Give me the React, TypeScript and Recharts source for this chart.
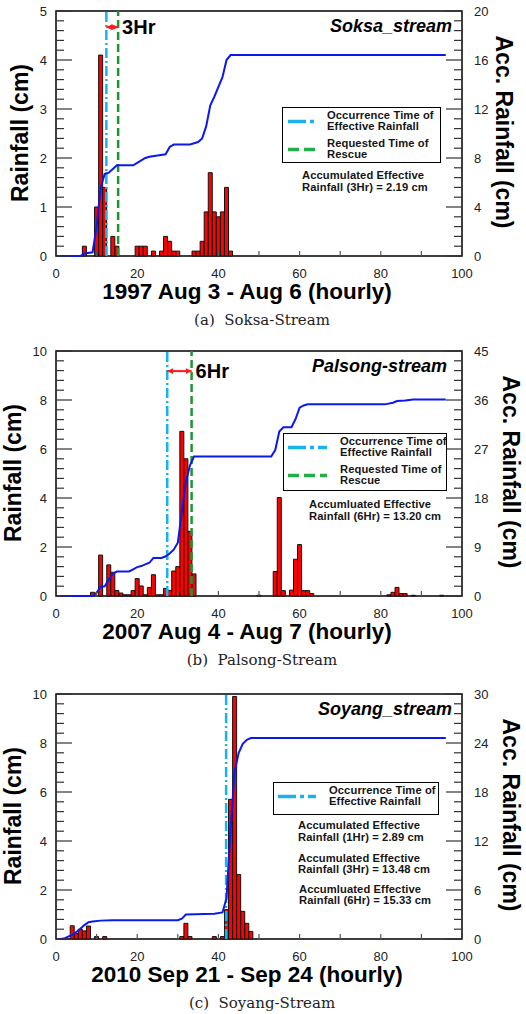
import React from 'react';
import { ComposedChart, Bar, Line, XAxis, YAxis, ReferenceLine, ReferenceArea } from 'recharts';

const SANS = '"Liberation Sans", Arial, sans-serif';
const SERIF = '"DejaVu Serif", "Liberation Serif", serif';

const hourSlots = Array.from({ length: 96 }, (_, i) => i + 1);
const xTickValues = [0, 10, 20, 30, 40, 50, 60, 70, 80, 90, 100];
const xTickLabels = [0, 20, 40, 60, 80, 100];

// (a) Soksa stream, 1997 Aug 3 - Aug 6
const soksaRainHour = [7, 10, 11, 12, 14, 15, 20, 21, 22, 24, 26, 27, 28, 29, 30, 34, 35, 36, 37, 38, 39, 40, 41, 42, 43];
const soksaRain = [0.2, 1.0, 4.1, 1.4, 0.4, 0.2, 0.2, 0.2, 0.2, 0.1, 0.1, 0.4, 0.3, 0.1, 0.1, 0.1, 0.1, 0.3, 0.9, 1.7, 0.9, 0.8, 0.9, 1.4, 0.1];
const soksaAccHour = [1, 6, 7, 9, 10, 11, 12, 13, 14, 15, 19, 20, 22, 23, 25, 27, 28, 29, 33, 35, 36, 37, 38, 39, 40, 41, 42, 43, 96];
const soksaAcc = [0, 0, 0.2, 0.3, 2.4, 5.6, 6.7, 6.8, 7.1, 7.4, 7.4, 7.6, 8.0, 8.1, 8.2, 8.3, 8.9, 9.1, 9.1, 9.3, 9.6, 10.6, 12.3, 13.0, 13.8, 14.6, 16.0, 16.4, 16.4];
const soksaLeftTicks = [0, 1, 2, 3, 4, 5];
const soksaRightTicks = [0, 4, 8, 12, 16, 20];

// (b) Palsong stream, 2007 Aug 4 - Aug 7
const palsongRainHour = [9, 11, 13, 14, 15, 16, 17, 18, 19, 20, 21, 22, 23, 24, 25, 26, 27, 28, 29, 30, 31, 32, 33, 34, 50, 54, 55, 56, 58, 59, 60, 61, 62, 63, 82, 83, 84, 85, 86, 88, 95];
const palsongRain = [0.15, 1.67, 1.27, 0.97, 0.22, 0.12, 0.05, 0.05, 0.22, 0.71, 0.41, 0.05, 0.35, 0.87, 0.05, 0.05, 0.31, 0.23, 1.02, 1.2, 6.72, 5.6, 2.64, 0.9, 0.03, 1.0, 4.02, 0.22, 0.24, 1.5, 2.1, 0.22, 0.22, 0.1, 0.05, 0.15, 0.35, 0.1, 0.1, 0.03, 0.03];
const palsongAccHour = [1, 9, 10, 11, 12, 13, 14, 15, 18, 19, 20, 21, 22, 23, 24, 26, 27, 28, 29, 30, 31, 32, 33, 34, 53, 54, 55, 56, 58, 59, 60, 61, 62, 81, 83, 84, 86, 88, 96];
const palsongAcc = [0, 0, 0.6, 1.7, 1.8, 3.0, 4.1, 4.5, 4.5, 4.9, 5.3, 5.5, 5.8, 6.1, 7.0, 7.0, 7.3, 7.8, 8.5, 9.8, 15.5, 21.0, 24.0, 25.6, 25.6, 26.8, 30.2, 31.0, 31.0, 32.5, 34.6, 35.0, 35.2, 35.2, 35.5, 35.8, 35.9, 36.1, 36.1];
const palsongLeftTicks = [0, 2, 4, 6, 8, 10];
const palsongRightTicks = [0, 9, 18, 27, 36, 45];

// (c) Soyang stream, 2010 Sep 21 - Sep 24
const soyangRainHour = [4, 5, 6, 7, 8, 10, 12, 31, 32, 33, 39, 41, 42, 43, 44, 45, 46, 47, 48];
const soyangRain = [0.54, 0.22, 0.4, 0.33, 0.53, 0.1, 0.1, 0.1, 0.64, 0.1, 0.1, 0.1, 1.2, 5.7, 9.9, 2.63, 1.13, 0.64, 0.31];
const soyangAccHour = [1, 2, 3, 4, 5, 6, 7, 8, 9, 11, 14, 30, 31, 32, 39, 41, 42, 43, 44, 45, 46, 47, 48, 96];
const soyangAcc = [0, 0.05, 0.3, 0.5, 0.85, 1.25, 1.7, 2.05, 2.15, 2.25, 2.3, 2.3, 2.5, 3.0, 3.1, 3.25, 5.0, 13.5, 20.5, 22.8, 23.9, 24.4, 24.6, 24.6];
const soyangLeftTicks = [0, 2, 4, 6, 8, 10];
const soyangRightTicks = [0, 6, 12, 18, 24, 30];

const EFFECTIVE_COLOR = '#1ab2ea';
const RESCUE_COLOR = '#1c9634';
const RESCUE_SAMPLE = '#22ad4a';

const buildRows = (rainHour: number[], rain: number[], accHour: number[], acc: number[]) =>
  hourSlots.map((h) => {
    const ri = rainHour.indexOf(h);
    const ai = accHour.indexOf(h);
    return { h, rain: ri >= 0 ? rain[ri] : null, acc: ai >= 0 ? acc[ai] : null };
  });

// majors plus 4 minor ticks between each pair
const withMinors = (majors: number[]) => {
  const out: number[] = [];
  for (let i = 0; i < majors.length - 1; i++) {
    const step = (majors[i + 1] - majors[i]) / 5;
    for (let k = 0; k < 5; k++) out.push(Math.round((majors[i] + k * step) * 1000) / 1000);
  }
  out.push(majors[majors.length - 1]);
  return out;
};

const XTick = (p: any) => {
  const { x, y, payload } = p;
  const v = payload.value;
  return (
    <g>
      {v > 0 && v < 100 && <line x1={x} x2={x} y1={y} y2={y - 5} stroke="#555" strokeWidth={1.2} />}
      {xTickLabels.includes(v) && (
        <text x={x} y={y + 17} dy="0.36em" textAnchor="middle" fontSize={13} fill="#222" fontFamily={SANS}>
          {v}
        </text>
      )}
    </g>
  );
};

const SideTick = (p: any) => {
  const { x, y, payload, side, majors } = p;
  const v = payload.value;
  const isMajor = majors.some((m: number) => Math.abs(m - v) < 1e-6);
  const len = isMajor ? 16 : 8;
  const dir = side === 'left' ? 1 : -1;
  return (
    <g>
      <line x1={x} x2={x + dir * len} y1={y} y2={y} stroke="#333" strokeWidth={1.2} />
      {isMajor && (
        <text
          x={side === 'left' ? x - 9 : x + 12}
          y={y}
          dy="0.36em"
          textAnchor={side === 'left' ? 'end' : 'start'}
          fontSize={13}
          fill="#222"
          fontFamily={SANS}
        >
          {v}
        </text>
      )}
    </g>
  );
};

type LegendRow = { kind: 'effective' | 'rescue'; lines: string[] };

const legendText: React.CSSProperties = {
  fontFamily: SANS,
  fontWeight: 'bold',
  fontSize: 11.2,
  letterSpacing: '0.1px',
  lineHeight: '11.8px',
  color: '#151515',
  whiteSpace: 'nowrap',
};

const LegendBox = ({ box, sampleX, sampleW, textX, rows }: any) => (
  <div
    style={{
      position: 'absolute',
      left: box[0],
      top: box[1],
      width: box[2],
      height: box[3],
      border: '1.5px solid #000',
      boxSizing: 'border-box',
      background: '#fff',
    }}
  >
    {rows.map((r: LegendRow, i: number) => (
      <div key={i} style={{ position: 'absolute', left: 0, right: 0, top: 1.5 + i * 28, height: 24 }}>
        <svg style={{ position: 'absolute', left: sampleX, top: 9.5 }} width={sampleW} height={5}>
          <line
            x1={0}
            x2={sampleW}
            y1={2.5}
            y2={2.5}
            stroke={r.kind === 'effective' ? EFFECTIVE_COLOR : RESCUE_SAMPLE}
            strokeWidth={3.5}
            strokeDasharray={r.kind === 'effective' ? '18 4 4 4' : '11 5'}
          />
        </svg>
        <div style={{ ...legendText, position: 'absolute', left: textX, top: 0 }}>
          {r.lines.map((t, j) => (
            <div key={j}>{t}</div>
          ))}
        </div>
      </div>
    ))}
  </div>
);

const Panel = (props: any) => {
  const {
    id, top, rows, leftMajors, rightMajors, effectiveAt, rescueAt, arrowAt, gapLabel,
    stream, streamRight, legend, notes, leftTitleX, rightTitleX, title, caption,
  } = props;
  const leftMax = leftMajors[leftMajors.length - 1];
  const rightMax = rightMajors[rightMajors.length - 1];
  return (
    <div style={{ position: 'absolute', left: 0, top, width: 526, height: 340 }}>
      <ComposedChart width={526} height={280} data={rows} margin={{ top: 11, right: 63, bottom: 0, left: 55 }}>
        <defs>
          <marker id={`arrow-${id}`} viewBox="0 0 10 10" refX="10" refY="5" markerWidth="3" markerHeight="3" orient="auto-start-reverse">
            <path d="M0,0 L10,5 L0,10 z" fill="#ff1a1a" />
          </marker>
        </defs>
        <XAxis
          dataKey="h"
          type="number"
          domain={[0, 100]}
          ticks={xTickValues}
          interval={0}
          height={24}
          tickSize={0}
          tickMargin={0}
          axisLine={false}
          tickLine={false}
          tick={(p: any) => <XTick {...p} />}
        />
        <YAxis
          yAxisId="left"
          domain={[0, leftMax]}
          ticks={withMinors(leftMajors)}
          interval={0}
          width={1}
          tickSize={0}
          tickMargin={0}
          axisLine={false}
          tickLine={false}
          tick={(p: any) => <SideTick {...p} side="left" majors={leftMajors} />}
        />
        <YAxis
          yAxisId="right"
          orientation="right"
          domain={[0, rightMax]}
          ticks={withMinors(rightMajors)}
          interval={0}
          width={1}
          tickSize={0}
          tickMargin={0}
          axisLine={false}
          tickLine={false}
          tick={(p: any) => <SideTick {...p} side="right" majors={rightMajors} />}
        />
        <ReferenceArea yAxisId="left" x1={0} x2={100} y1={0} y2={leftMax} fill="none" stroke="#000" strokeWidth={1.5} />
        <Bar yAxisId="left" dataKey="rain" fill="#ff0000" stroke="#111" strokeWidth={1} barSize={4} isAnimationActive={false} />
        <ReferenceLine yAxisId="left" x={effectiveAt} stroke={EFFECTIVE_COLOR} strokeWidth={2.5} strokeDasharray="10 3 2 3" />
        {rescueAt != null && (
          <ReferenceLine yAxisId="left" x={rescueAt} stroke={RESCUE_COLOR} strokeWidth={2.5} strokeDasharray="8 4" />
        )}
        {rescueAt != null && (
          <ReferenceLine
            yAxisId="left"
            segment={[{ x: effectiveAt, y: arrowAt }, { x: rescueAt, y: arrowAt }]}
            stroke="#ff1a1a"
            strokeWidth={2}
            markerStart={`url(#arrow-${id})`}
            markerEnd={`url(#arrow-${id})`}
            label={{ value: gapLabel, position: 'right', offset: 4, fill: '#000', fontSize: 20, fontWeight: 'bold', fontFamily: SANS }}
          />
        )}
        <Line
          yAxisId="right"
          dataKey="acc"
          type="linear"
          stroke="#0c18f0"
          strokeWidth={2}
          dot={false}
          connectNulls
          isAnimationActive={false}
        />
      </ComposedChart>

      <div
        style={{
          position: 'absolute', right: 526 - streamRight, top: 26, transform: 'translateY(-50%)',
          fontFamily: SANS, fontWeight: 'bold', fontStyle: 'italic', fontSize: 18, color: '#000', whiteSpace: 'nowrap',
        }}
      >
        {stream}
      </div>

      <LegendBox {...legend} />

      {notes.map((n: any, i: number) => (
        <div key={i} style={{ ...legendText, position: 'absolute', left: n.x, top: n.y }}>
          {n.lines.map((t: string, j: number) => (
            <div key={j}>{t}</div>
          ))}
        </div>
      ))}

      <div
        style={{
          position: 'absolute', left: leftTitleX, top: 133, transform: 'translate(-50%, -50%) rotate(-90deg)',
          fontFamily: SANS, fontWeight: 'bold', fontSize: 23, whiteSpace: 'nowrap', color: '#000',
        }}
      >
        Rainfall (cm)
      </div>
      <div
        style={{
          position: 'absolute', left: rightTitleX, top: 132, transform: 'translate(-50%, -50%) rotate(90deg)',
          fontFamily: SANS, fontWeight: 'bold', fontSize: 23, whiteSpace: 'nowrap', color: '#000',
        }}
      >
        Acc. Rainfall (cm)
      </div>
      <div
        style={{
          position: 'absolute', left: 247, top: 292, transform: 'translate(-50%, -50%)',
          fontFamily: SANS, fontWeight: 'bold', fontSize: 22.5, whiteSpace: 'nowrap', color: '#000',
        }}
      >
        {title}
      </div>
      <div
        style={{
          position: 'absolute', left: 262, top: 320, transform: 'translate(-50%, -50%)',
          fontFamily: SERIF, fontSize: 15, whiteSpace: 'pre', color: '#222',
        }}
      >
        {caption}
      </div>
    </div>
  );
};

export default function App() {
  return (
    <div style={{ position: 'absolute', left: 0, top: 0, width: 526, height: 1014, background: '#fff' }}>
      <Panel
        id="a"
        top={0}
        rows={buildRows(soksaRainHour, soksaRain, soksaAccHour, soksaAcc)}
        leftMajors={soksaLeftTicks}
        rightMajors={soksaRightTicks}
        effectiveAt={12.4}
        rescueAt={15.3}
        arrowAt={4.67}
        gapLabel="3Hr"
        stream="Soksa_stream"
        streamRight={452}
        legend={{
          box: [282, 107, 159, 56],
          sampleX: 5,
          sampleW: 28,
          textX: 44,
          rows: [
            { kind: 'effective', lines: ['Occurrence Time of', 'Effective Rainfall'] },
            { kind: 'rescue', lines: ['Requested Time of', 'Rescue'] },
          ],
        }}
        notes={[{ x: 302, y: 170, lines: ['Accumulated Effective', 'Rainfall (3Hr) = 2.19 cm'] }]}
        leftTitleX={20}
        rightTitleX={503}
        title="1997 Aug 3 - Aug 6 (hourly)"
        caption="(a)  Soksa-Stream"
      />
      <Panel
        id="b"
        top={340}
        rows={buildRows(palsongRainHour, palsongRain, palsongAccHour, palsongAcc)}
        leftMajors={palsongLeftTicks}
        rightMajors={palsongRightTicks}
        effectiveAt={27.4}
        rescueAt={33.4}
        arrowAt={9.18}
        gapLabel="6Hr"
        stream="Palsong-stream"
        streamRight={447}
        legend={{
          box: [283, 93, 164, 58],
          sampleX: 4,
          sampleW: 39,
          textX: 56,
          rows: [
            { kind: 'effective', lines: ['Occurrence Time of', 'Effective Rainfall'] },
            { kind: 'rescue', lines: ['Requested Time of', 'Rescue'] },
          ],
        }}
        notes={[{ x: 309, y: 159, lines: ['Accumluated Effective', 'Rainfall (6Hr) = 13.20 cm'] }]}
        leftTitleX={13}
        rightTitleX={510}
        title="2007 Aug 4 - Aug 7 (hourly)"
        caption="(b)  Palsong-Stream"
      />
      <Panel
        id="c"
        top={683}
        rows={buildRows(soyangRainHour, soyangRain, soyangAccHour, soyangAcc)}
        leftMajors={soyangLeftTicks}
        rightMajors={soyangRightTicks}
        effectiveAt={41.9}
        rescueAt={null}
        stream="Soyang_stream"
        streamRight={452}
        legend={{
          box: [273, 99, 166, 33],
          sampleX: 4,
          sampleW: 38,
          textX: 55,
          rows: [{ kind: 'effective', lines: ['Occurrence Time of', 'Effective Rainfall'] }],
        }}
        notes={[
          { x: 298, y: 137, lines: ['Accumulated Effective', 'Rainfall (1Hr) = 2.89 cm'] },
          { x: 298, y: 169.5, lines: ['Accumulated Effective', 'Rainfall (3Hr) = 13.48 cm'] },
          { x: 299, y: 200.5, lines: ['Accumluated Effective', 'Rainfall (6Hr) = 15.33 cm'] },
        ]}
        leftTitleX={13}
        rightTitleX={510}
        title="2010 Sep 21 - Sep 24 (hourly)"
        caption="(c)  Soyang-Stream"
      />
    </div>
  );
}
